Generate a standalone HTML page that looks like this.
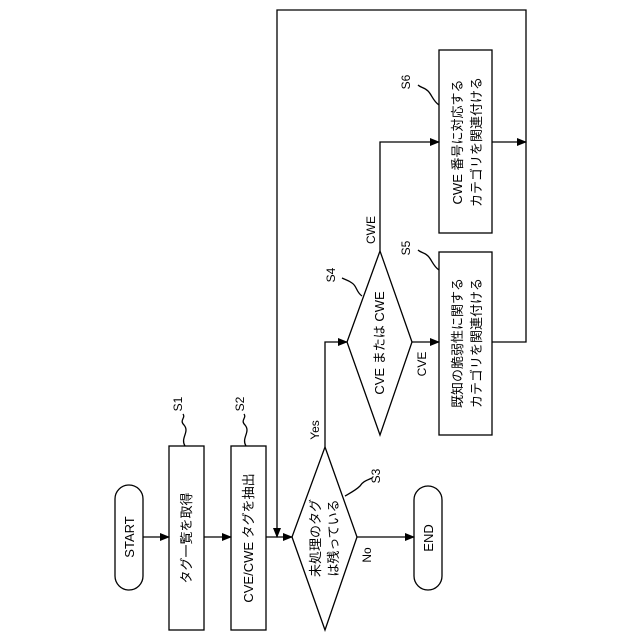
<!DOCTYPE html>
<html><head><meta charset="utf-8"><style>
html,body{margin:0;padding:0;background:#fff;}
svg{display:block;}
text{font-family:"Liberation Sans","Noto Sans CJK JP",sans-serif;fill:#000;}
</style></head><body>
<svg width="640" height="640" viewBox="0 0 640 640" xmlns="http://www.w3.org/2000/svg">
<defs><marker id="a" markerWidth="10" markerHeight="8" refX="9" refY="4" orient="auto" markerUnits="userSpaceOnUse"><path d="M0,0 L10,4 L0,8 z" fill="#000"/></marker></defs>
<g fill="none" stroke="#000" stroke-width="1.3">
<!-- START -->
<rect x="115" y="485" width="28" height="105" rx="14" ry="14" fill="#fff"/>
<!-- S1 S2 -->
<rect x="169" y="446" width="35" height="184" fill="#fff"/>
<rect x="231" y="446" width="35" height="184" fill="#fff"/>
<!-- S3 diamond -->
<polygon points="325,447 357,537 325,630 292,537" fill="#fff"/>
<!-- END -->
<rect x="414" y="486" width="28" height="104" rx="14" ry="14" fill="#fff"/>
<!-- S4 diamond -->
<polygon points="380,251 412,342 380,435 347,342" fill="#fff"/>
<!-- S5 S6 -->
<rect x="439" y="252" width="53" height="183" fill="#fff"/>
<rect x="439" y="50" width="53" height="183" fill="#fff"/>
<!-- arrows -->
<line x1="143" y1="537" x2="169" y2="537" marker-end="url(#a)"/>
<line x1="204" y1="537" x2="231" y2="537" marker-end="url(#a)"/>
<line x1="266" y1="537" x2="292" y2="537" marker-end="url(#a)"/>
<line x1="357" y1="537" x2="414" y2="537" marker-end="url(#a)"/>
<polyline points="325,447 325,342 347,342" marker-end="url(#a)"/>
<line x1="412" y1="342" x2="439" y2="342" marker-end="url(#a)"/>
<polyline points="380,251 380,142 439,142" marker-end="url(#a)"/>
<line x1="492" y1="142" x2="526" y2="142" marker-end="url(#a)"/>
<polyline points="492,342 526,342 526,10 277,10 277,537" marker-end="url(#a)"/>
<!-- squiggles -->
<path d="M185,446 C180,438 190,432 184,425 C179,420 186,418 183,414"/>
<path d="M246,446 C241,438 251,432 245,425 C240,420 247,418 244,414"/>
<path d="M345,496 C352,492 356,490 360,486 C363,481 368,480 372,478"/>
<path d="M362,296 C356,292 357,286 352,283 C348,280 346,280 342,278"/>
<path d="M439,270 C433,266 432,260 428,256 C424,252 421,253 418,250"/>
<path d="M439,105 C433,101 432,95 428,91 C424,87 421,88 418,85"/>
</g>
<g font-size="13">
<text transform="translate(134,537) rotate(-90)" text-anchor="middle">START</text>
<text transform="translate(191,538) rotate(-90)" text-anchor="middle">タグ一覧を取得</text>
<text transform="translate(253,538) rotate(-90)" text-anchor="middle">CVE/CWE タグを抽出</text>
<text transform="translate(320,538) rotate(-90)" text-anchor="middle">未処理のタグ</text>
<text transform="translate(338,538) rotate(-90)" text-anchor="middle">は残っている</text>
<text transform="translate(433,538) rotate(-90)" text-anchor="middle">END</text>
<text transform="translate(384,343) rotate(-90)" text-anchor="middle">CVE または CWE</text>
<text transform="translate(462,343) rotate(-90)" text-anchor="middle">既知の脆弱性に関する</text>
<text transform="translate(481,343) rotate(-90)" text-anchor="middle">カテゴリを関連付ける</text>
<text transform="translate(462,142) rotate(-90)" text-anchor="middle">CWE 番号に対応する</text>
<text transform="translate(481,142) rotate(-90)" text-anchor="middle">カテゴリを関連付ける</text>
</g>
<g font-size="12">
<text transform="translate(319,430) rotate(-90)" text-anchor="middle">Yes</text>
<text transform="translate(371,555) rotate(-90)" text-anchor="middle">No</text>
<text transform="translate(375,230) rotate(-90)" text-anchor="middle">CWE</text>
<text transform="translate(426,364) rotate(-90)" text-anchor="middle">CVE</text>
<text transform="translate(182,404) rotate(-90)" text-anchor="middle">S1</text>
<text transform="translate(244,404) rotate(-90)" text-anchor="middle">S2</text>
<text transform="translate(380,476) rotate(-90)" text-anchor="middle">S3</text>
<text transform="translate(335,275) rotate(-90)" text-anchor="middle">S4</text>
<text transform="translate(410,248) rotate(-90)" text-anchor="middle">S5</text>
<text transform="translate(410,82) rotate(-90)" text-anchor="middle">S6</text>
</g>
</svg>
</body></html>
